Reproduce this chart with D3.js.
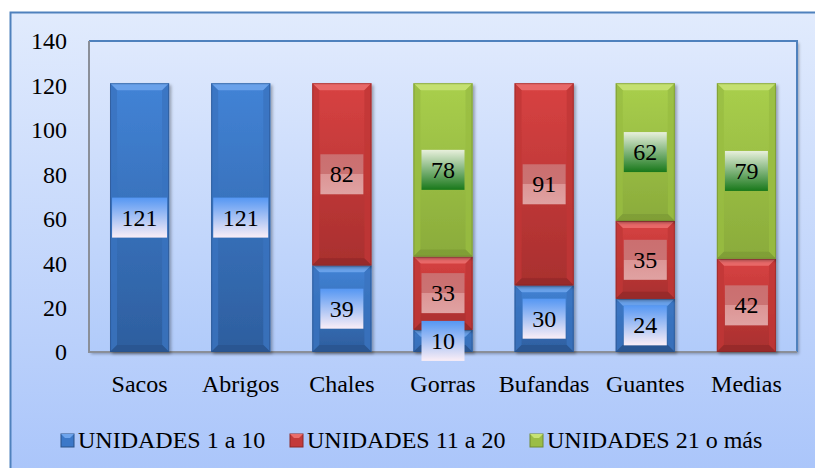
<!DOCTYPE html>
<html><head><meta charset="utf-8">
<script src="https://cdn.jsdelivr.net/npm/d3@7/dist/d3.min.js"></script>
<style>body{margin:0;background:#fff;} svg{display:block;}</style>
</head><body>
<script>
const categories = ["Sacos","Abrigos","Chales","Gorras","Bufandas","Guantes","Medias"];
const seriesNames = ["UNIDADES 1 a 10","UNIDADES 11 a 20","UNIDADES 21 o más"];
const units1to10 = [121,121,39,10,30,24,0];
const units11to20 = [0,0,82,33,91,35,42];
const units21more = [0,0,0,78,0,62,79];
const yTicks = [0,20,40,60,80,100,120,140];

const FONT = "Liberation Serif";
const W=815,H=468;
const svg=d3.select("body").append("svg").attr("width",W).attr("height",H)
  .attr("font-family",FONT).attr("font-size",24);
const defs=svg.append("defs");
function lin(id,stops){const g=defs.append("linearGradient").attr("id",id).attr("x1",0).attr("y1",0).attr("x2",0).attr("y2",1);
 stops.forEach(s=>g.append("stop").attr("offset",s[0]).attr("stop-color",s[1]));}
lin("bgOuter",[[0,"#e1ebfd"],[1,"#a7c3fa"]]);
lin("bgPlot",[[0,"#dfe9fd"],[1,"#b1cbfa"]]);
lin("face0",[[0,"#4283d6"],[1,"#2d5e9e"]]);
lin("face1",[[0,"#d84242"],[1,"#a82f2e"]]);
lin("face2",[[0,"#a9cf4c"],[1,"#8aab3b"]]);
lin("lab0",[[0,"#5597f3"],[1,"#fbeef6"]]);
lin("lab1",[[0,"#cb6f70"],[0.5,"#cb7373"],[0.5,"#dc9595"],[1,"#e0a2a2"]]);
lin("lab2",[[0,"#e8f0dc"],[1,"#18781a"]]);
const f=defs.append("filter").attr("id","sh").attr("x","-20%").attr("y","-20%").attr("width","140%").attr("height","140%");
f.append("feDropShadow").attr("dx",2).attr("dy",2).attr("stdDeviation",1.5).attr("flood-color","#000").attr("flood-opacity",0.3);

const topFacet=["#6ea4ec","#ea6d6b","#c6e274"];
const sideFacet=["#3a73bf","#c03736","#98bd42"];
const botFacet=["#2a5590","#962a2a","#7e9d36"];
const edge=["#2b5288","#8a2828","#6f8a32"];
const legendFill=["#3c78c8","#c43a3a","#9bbd45"];

svg.append("rect").attr("x",10.5).attr("y",12.5).attr("width",W+20).attr("height",H+20)
 .attr("fill","url(#bgOuter)").attr("stroke","#4f81bd").attr("stroke-width",2);

const plot={l:89,t:41,r:797,b:352};
svg.append("rect").attr("x",plot.l).attr("y",plot.t).attr("width",plot.r-plot.l).attr("height",plot.b-plot.t)
 .attr("fill","url(#bgPlot)").attr("filter","url(#sh)");
svg.append("path").attr("d",`M${plot.l},${plot.t}H${plot.r}V${plot.b}`).attr("fill","none").attr("stroke","#4f81bd").attr("stroke-width",2);
svg.append("path").attr("d",`M${plot.l},${plot.t}V${plot.b}H${plot.r}`).attr("fill","none").attr("stroke","#8a8f99").attr("stroke-width",2);

const x=d3.scaleBand().domain(categories).range([plot.l,plot.r]).paddingInner(0.416).paddingOuter(0.208);
const y=d3.scaleLinear().domain([0,140]).range([plot.b,plot.t]);

const table=categories.map((c,i)=>({cat:c,s0:units1to10[i],s1:units11to20[i],s2:units21more[i]}));
const stack=d3.stack().keys(["s0","s1","s2"])(table);

const gBars=svg.append("g");
stack.forEach((layer,si)=>{
 layer.forEach(d=>{
  if(d[1]-d[0]<=0) return;
  const x0=x(d.data.cat),x1=x0+x.bandwidth(),y0=y(d[1]),y1=y(d[0]);
  const b=Math.min(7,(y1-y0)/2,x.bandwidth()/2);
  const g=gBars.append("g").attr("filter","url(#sh)");
  g.append("rect").attr("x",x0).attr("y",y0).attr("width",x1-x0).attr("height",y1-y0).attr("fill",`url(#face${si})`);
  g.append("path").attr("d",`M${x0},${y0}L${x1},${y0}L${x1-b},${y0+b}L${x0+b},${y0+b}Z`).attr("fill",topFacet[si]).attr("opacity",0.9);
  g.append("path").attr("d",`M${x0},${y0}L${x0+b},${y0+b}L${x0+b},${y1-b}L${x0},${y1}Z`).attr("fill",sideFacet[si]).attr("opacity",0.8);
  g.append("path").attr("d",`M${x1},${y0}L${x1-b},${y0+b}L${x1-b},${y1-b}L${x1},${y1}Z`).attr("fill",sideFacet[si]).attr("opacity",0.8);
  g.append("path").attr("d",`M${x0},${y1}L${x0+b},${y1-b}L${x1-b},${y1-b}L${x1},${y1}Z`).attr("fill",botFacet[si]).attr("opacity",0.9);
  g.append("rect").attr("x",x0+0.5).attr("y",y0+0.5).attr("width",x1-x0-1).attr("height",y1-y0-1).attr("fill","none").attr("stroke",edge[si]).attr("stroke-opacity",0.6);
 });
});

const gLab=svg.append("g");
stack.forEach((layer,si)=>{
 layer.forEach(d=>{
  const v=d[1]-d[0]; if(v<=0) return;
  const cx=x(d.data.cat)+x.bandwidth()/2, cy=y((d[0]+d[1])/2);
  const t=gLab.append("text").attr("x",cx).attr("y",cy+8).attr("text-anchor","middle")
    .attr("font-family",FONT).attr("font-size",24).attr("fill","#000").text(v);
  const w=t.node().getComputedTextLength()+19;
  gLab.insert("rect","text").attr("x",cx-w/2).attr("y",cy-20).attr("width",w).attr("height",40).attr("fill",`url(#lab${si})`);
 });
});

const yAxis=d3.axisLeft(y).tickValues(yTicks).tickSize(0).tickPadding(0);
const ga=svg.append("g").attr("transform","translate(67,0)").call(yAxis);
ga.select(".domain").remove();
ga.attr("font-family",FONT).attr("font-size",24);
ga.selectAll("text").attr("font-family",FONT).attr("font-size",24).attr("fill","#000").attr("dy","0.33em");

const xAxis=d3.axisBottom(x).tickSize(0).tickPadding(0);
const gx=svg.append("g").attr("transform",`translate(0,${plot.b})`).call(xAxis);
gx.select(".domain").remove();
gx.attr("font-family",FONT).attr("font-size",24);
gx.selectAll("text").attr("font-family",FONT).attr("font-size",24).attr("fill","#000").attr("dy",0).attr("y",40);

const legX=[61,290,530];
const gl=svg.append("g");
seriesNames.forEach((n,i)=>{
 const sx=legX[i], sy=434;
 gl.append("rect").attr("x",sx).attr("y",sy).attr("width",13).attr("height",13).attr("fill",legendFill[i]).attr("stroke",edge[i]).attr("stroke-width",1);
 gl.append("path").attr("d",`M${sx},${sy}L${sx+13},${sy}L${sx+9},${sy+4}L${sx+4},${sy+4}Z`).attr("fill",topFacet[i]);
 gl.append("text").attr("x",sx+17).attr("y",448).attr("font-family",FONT).attr("font-size",24).attr("fill","#000").text(n);
});
</script>
</body></html>
